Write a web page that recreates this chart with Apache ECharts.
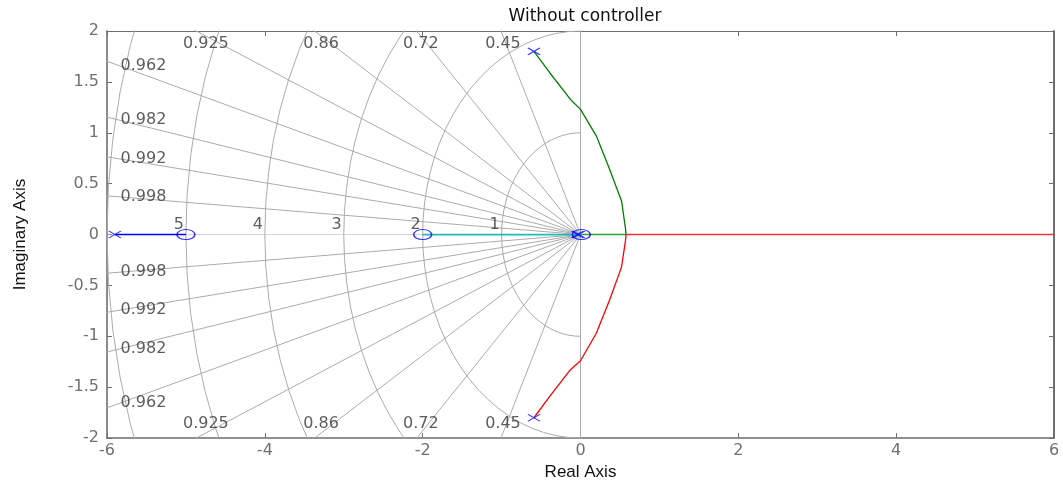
<!DOCTYPE html>
<html lang="en">
<head>
<meta charset="UTF-8">
<title>Without controller</title>
<script src="https://cdn.jsdelivr.net/npm/echarts@6/dist/echarts.min.js"></script>
<style>
  html, body { margin: 0; padding: 0; background: #fff; }
  #chart { width: 1063px; height: 486px; }
</style>
</head>
<body>
<div id="chart"></div>
<script>
// s-plane grid: damping ratio rays and natural frequency arcs
var zetaValues = [0.45, 0.72, 0.86, 0.925, 0.962, 0.982, 0.992, 0.998];
var zetaLabels = ['0.45', '0.72', '0.86', '0.925', '0.962', '0.982', '0.992', '0.998'];
var wnValues = [1, 2, 3, 4, 5, 6];
var wnLabels = ['1', '2', '3', '4', '5'];

// root locus branches
var upperBranch = [[-0.59, 1.80], [-0.39, 1.59], [-0.13, 1.33], [0.0, 1.23], [0.2, 0.97], [0.37, 0.64], [0.52, 0.33], [0.57, 0.06], [0.577, 0]];
var lowerBranch = [[-0.59, -1.80], [-0.39, -1.59], [-0.13, -1.33], [0.0, -1.24], [0.2, -0.97], [0.37, -0.64], [0.52, -0.32], [0.57, -0.06], [0.577, 0]];
var greenAxis = [[0, 0], [0.577, 0]];
var redAxis = [[0.577, 0], [6, 0]];
var cyanBranch = [[0, 0], [-2, 0]];
var blueBranch = [[-5.9, 0], [-5, 0]];
var poles = [[-0.59, 1.80], [-0.59, -1.80], [-5.9, 0], [-0.04, 0], [-0.02, 0]];
var zeros = [[-5, 0], [-2, 0], [0.01, 0]];

var xMin = -6, xMax = 6, xStep = 2;
var yMin = -2, yMax = 2, yStep = 0.5;

var chart = echarts.init(document.getElementById('chart'));

var gray = '#ababab';
var R = 30;
var series = [];

function gridLine(data, dashed) {
  series.push({
    type: 'line', data: data, symbol: 'none', silent: true, z: 1,
    lineStyle: { color: gray, width: 1, type: dashed ? 'dotted' : 'solid' }
  });
}

// zeta = 0 (imaginary axis) and zeta = 1 (negative real axis)
gridLine([[0, -R], [0, R]], false);
gridLine([[0, 0], [-R, 0]], true);

zetaValues.forEach(function (z) {
  var s = Math.sqrt(1 - z * z);
  gridLine([[0, 0], [-R * z, R * s]], false);
  gridLine([[0, 0], [-R * z, -R * s]], false);
});

wnValues.forEach(function (w) {
  var pts = [];
  for (var k = 0; k <= 40; k++) {
    var t = Math.PI / 2 + Math.PI * k / 40;
    pts.push([w * Math.cos(t), w * Math.sin(t)]);
  }
  gridLine(pts, false);
});

// label positions for the damping rays
var zetaTop = [], zetaLeft = [];
zetaValues.forEach(function (z, i) {
  var s = Math.sqrt(1 - z * z);
  var xTop = -(yMax - 0.05) * z / s;
  if (xTop > xMin + 0.6) {
    zetaTop.push({ value: [xTop, yMax - 0.13], name: zetaLabels[i] });
    zetaTop.push({ value: [xTop, -(yMax - 0.14)], name: zetaLabels[i] });
  } else {
    var xl = xMin + 0.165;
    var yl = -xl * s / z;
    zetaLeft.push({ value: [xl, yl], name: zetaLabels[i] });
    zetaLeft.push({ value: [xl, -yl], name: zetaLabels[i] });
  }
});
var wnLabelPts = wnLabels.map(function (t, i) {
  return { value: [-wnValues[i] - 0.09, 0.1], name: t };
});

var labelFont = { fontFamily: 'DejaVu Sans', fontSize: 16, color: '#333' };

function labelSeries(data, pos) {
  series.push({
    type: 'scatter', data: data, symbolSize: 1, silent: true, z: 3,
    itemStyle: { color: 'rgba(0,0,0,0)' },
    label: Object.assign({ show: true, position: pos, distance: 0, formatter: '{b}' }, labelFont)
  });
}
labelSeries(zetaTop, 'inside');
labelSeries(zetaLeft, 'right');
labelSeries(wnLabelPts, 'inside');

function branch(data, color, width) {
  series.push({
    type: 'line', data: data, symbol: 'none', silent: true, z: 4,
    lineStyle: { color: color, width: width, opacity: 1 }
  });
}
branch(redAxis, '#ff3030', 1.5);
branch(greenAxis, '#33a033', 1.5);
branch(cyanBranch, '#22b8b8', 1.8);
branch(blueBranch, '#0000ff', 1.5);
branch(upperBranch, '#007f00', 1.3);
branch(lowerBranch, '#ff0000', 1.3);

series.push({
  type: 'scatter', data: zeros, silent: true, z: 6,
  symbol: 'path://M0,10A10,10,0,1,1,20,10A10,10,0,1,1,0,10Z',
  symbolSize: [18, 10],
  itemStyle: { color: 'rgba(0,0,0,0)', borderColor: '#0000ff', borderWidth: 1.2 }
});
series.push({
  type: 'scatter', data: poles, silent: true, z: 6,
  symbol: 'path://M0,0L10,10M10,0L0,10',
  symbolSize: [12, 7],
  itemStyle: { color: 'rgba(0,0,0,0)', borderColor: '#0000ff', borderWidth: 1.2 }
});

var axisGray = '#6e6e6e';
var tickFont = { fontFamily: 'DejaVu Sans', fontSize: 16, color: '#707070' };

function axisBase(extra, lw) {
  return Object.assign({
    type: 'value',
    axisLine: { show: true, onZero: false, lineStyle: { color: axisGray, width: lw || 1.3 } },
    axisTick: { show: true, inside: true, length: 5, lineStyle: { color: axisGray } },
    splitLine: { show: false }
  }, extra);
}

chart.setOption({
  animation: false,
  backgroundColor: '#fff',
  title: {
    text: 'Without controller',
    left: 580, top: 3, textAlign: 'center',
    textStyle: { fontFamily: 'DejaVu Sans', fontSize: 17, fontWeight: 'normal', color: '#111' }
  },
  grid: { left: 107, right: 9, top: 31, bottom: 46 },
  xAxis: [
    axisBase({
      position: 'bottom', min: xMin, max: xMax, interval: xStep,
      axisLabel: Object.assign({ margin: 5 }, tickFont),
      name: 'Real Axis', nameLocation: 'middle', nameGap: 25,
      nameTextStyle: { fontFamily: 'Liberation Sans Narrow, Liberation Sans', fontSize: 17, color: '#111' }
    }, 1.6),
    axisBase({ position: 'top', min: xMin, max: xMax, interval: xStep, axisLabel: { show: false } }, 1.2)
  ],
  yAxis: [
    axisBase({
      position: 'left', min: yMin, max: yMax, interval: yStep,
      axisLabel: Object.assign({ margin: 8 }, tickFont),
      name: 'Imaginary Axis', nameLocation: 'middle', nameGap: 78,
      nameTextStyle: { fontFamily: 'Liberation Sans Narrow, Liberation Sans', fontSize: 17, color: '#111' }
    }, 1.6),
    axisBase({ position: 'right', min: yMin, max: yMax, interval: yStep, axisLabel: { show: false } }, 2)
  ],
  series: series
});
</script>
</body>
</html>
